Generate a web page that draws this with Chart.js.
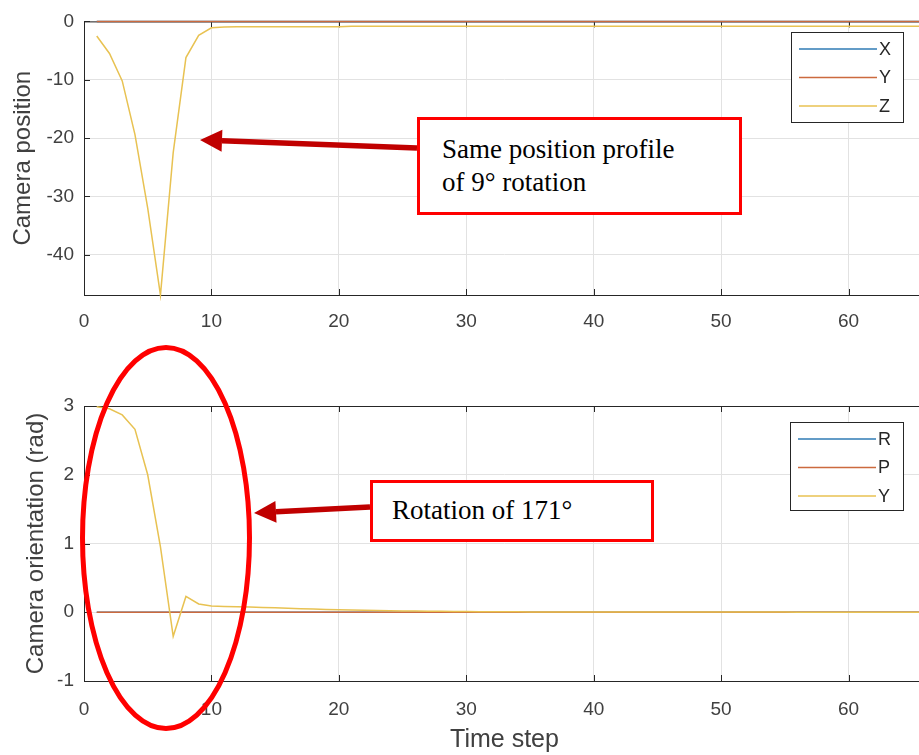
<!DOCTYPE html>
<html>
<head>
<meta charset="utf-8">
<script src="https://cdn.jsdelivr.net/npm/chart.js@4.4.0/dist/chart.umd.min.js"></script>
<style>
  html, body { margin: 0; padding: 0; background: #fff; }
  #wrap { position: relative; width: 919px; height: 755px; overflow: hidden; background: #fff; }
  canvas { position: absolute; left: 0; }
  #topChart { top: 0; }
  #botChart { top: 340px; }
  .note {
    position: absolute; box-sizing: border-box; background: #fff;
    border: 3px solid #ff0000; color: #000;
    font-family: "Liberation Serif", "Times New Roman", serif;
    font-size: 27px; line-height: 33px; white-space: nowrap;
  }
</style>
</head>
<body>
<div id="wrap">
  <canvas id="topChart" width="925" height="340"></canvas>
  <canvas id="botChart" width="925" height="415"></canvas>
  <div class="note" style="left:417px;top:117px;width:325px;height:98px;padding:13px 0 0 22px;">Same position profile<br>of 9° rotation</div>
  <div class="note" style="left:370px;top:480px;width:284px;height:62px;padding:11px 0 0 19px;">Rotation of 171°</div>
</div>
<script>
// Data
const steps = [
  1, 2, 3, 4, 5, 6, 7, 8, 9, 10,
  11, 12, 13, 14, 15, 16, 17, 18, 19, 20,
  21, 22, 23, 24, 25, 26, 27, 28, 29, 30,
  31, 32, 33, 34, 35, 36, 37, 38, 39, 40,
  41, 42, 43, 44, 45, 46, 47, 48, 49, 50,
  51, 52, 53, 54, 55, 56, 57, 58, 59, 60,
  61, 62, 63, 64, 65, 66
];
const zeros = [
  0, 0, 0, 0, 0, 0, 0, 0, 0, 0,
  0, 0, 0, 0, 0, 0, 0, 0, 0, 0,
  0, 0, 0, 0, 0, 0, 0, 0, 0, 0,
  0, 0, 0, 0, 0, 0, 0, 0, 0, 0,
  0, 0, 0, 0, 0, 0, 0, 0, 0, 0,
  0, 0, 0, 0, 0, 0, 0, 0, 0, 0,
  0, 0, 0, 0, 0, 0
];
const posX = zeros;
const posY = zeros;
const posZ = [
  -2.5, -5.5, -10.2, -19.4, -32, -46.9, -22.5, -6.2, -2.4, -1.1,
  -0.95, -0.9, -0.9, -0.9, -0.9, -0.9, -0.9, -0.9, -0.9, -0.9,
  -0.85, -0.85, -0.85, -0.85, -0.85, -0.85, -0.85, -0.85, -0.85, -0.85,
  -0.85, -0.85, -0.85, -0.85, -0.85, -0.85, -0.85, -0.85, -0.85, -0.85,
  -0.85, -0.85, -0.85, -0.85, -0.85, -0.85, -0.85, -0.85, -0.85, -0.85,
  -0.85, -0.85, -0.85, -0.85, -0.85, -0.85, -0.85, -0.85, -0.85, -0.85,
  -0.85, -0.85, -0.85, -0.85, -0.85, -0.85
];
const rotR = zeros;
const rotP = zeros;
const rotY = [
  2.99, 2.96, 2.87, 2.66, 2.0, 0.95, -0.35, 0.23, 0.12, 0.09,
  0.085, 0.08, 0.075, 0.07, 0.064, 0.058, 0.052, 0.046, 0.041, 0.036,
  0.032, 0.028, 0.025, 0.022, 0.019, 0.017, 0.015, 0.013, 0.011, 0.01,
  0.009, 0.008, 0.007, 0.006, 0.005, 0.005, 0.004, 0.004, 0.003, 0.003,
  0.003, 0.002, 0.002, 0.002, 0.002, 0.002, 0.002, 0.002, 0.002, 0.002,
  0.002, 0.002, 0.002, 0.002, 0.002, 0.001, 0.001, 0.001, 0.001, 0.001,
  0.001, 0.001, 0.001, 0.001, 0.001, 0.001
];
const stepTicks = [0, 10, 20, 30, 40, 50, 60];
const posTicks = [-40, -30, -20, -10, 0];
const rotTicks = [-1, 0, 1, 2, 3];
const posLabels = ['X', 'Y', 'Z'];
const rotLabels = ['R', 'P', 'Y'];

const colors = ['#2f7bb5', '#cc6a3e', '#e8c252'];
const axisFont = { family: '"Liberation Sans", Arial, sans-serif', size: 19 };
const titleFont = { family: '"Liberation Sans", Arial, sans-serif', size: 24 };
const textColor = '#404040';

function series(labels, values) {
  return labels.map((lab, k) => ({
    label: lab,
    data: steps.map((s, i) => ({ x: s, y: values[k][i] })),
    borderColor: colors[k],
    borderWidth: 1.5,
    pointRadius: 0,
    tension: 0,
    clip: false,
    order: labels.length - 1 - k // later series on top, as in MATLAB
  }));
}

// axes box with inward ticks, like MATLAB
const frame = {
  id: 'frame',
  beforeDatasetsDraw(chart) {
    const { ctx, chartArea: a, scales: { x, y } } = chart;
    ctx.save();
    ctx.strokeStyle = '#262626';
    ctx.lineWidth = 1;
    ctx.strokeRect(a.left + 0.5, a.top + 0.5, a.right - a.left, a.bottom - a.top);
    ctx.beginPath();
    x.ticks.forEach(t => {
      const px = Math.round(x.getPixelForValue(t.value)) + 0.5;
      ctx.moveTo(px, a.bottom); ctx.lineTo(px, a.bottom - 6);
      ctx.moveTo(px, a.top); ctx.lineTo(px, a.top + 6);
    });
    y.ticks.forEach(t => {
      const py = Math.round(y.getPixelForValue(t.value)) + 0.5;
      ctx.moveTo(a.left, py); ctx.lineTo(a.left + 6, py);
      ctx.moveTo(a.right, py); ctx.lineTo(a.right - 6, py);
    });
    ctx.stroke();
    ctx.restore();
  }
};

// legend box drawn inside the axes
const boxLegend = {
  id: 'boxLegend',
  afterDraw(chart, args, opts) {
    const { ctx } = chart;
    const b = opts.box;
    ctx.save();
    ctx.fillStyle = '#fff';
    ctx.fillRect(b.x, b.y, b.w, b.h);
    ctx.strokeStyle = '#262626';
    ctx.lineWidth = 1;
    ctx.strokeRect(b.x + 0.5, b.y + 0.5, b.w, b.h);
    ctx.font = '18px "Liberation Sans", Arial, sans-serif';
    ctx.textBaseline = 'middle';
    chart.data.datasets.forEach((ds, i) => {
      const ry = b.y + 17 + i * 28.5;
      ctx.strokeStyle = ds.borderColor;
      ctx.lineWidth = 1.5;
      ctx.beginPath();
      ctx.moveTo(b.x + 8, ry); ctx.lineTo(b.x + 86, ry);
      ctx.stroke();
      ctx.fillStyle = '#262626';
      ctx.fillText(ds.label, b.x + 88, ry + 1);
    });
    ctx.restore();
  }
};

function arrow(ctx, x1, y1, x2, y2) {
  const ang = Math.atan2(y2 - y1, x2 - x1);
  const head = 22, half = 11;
  const bx = x2 - head * Math.cos(ang), by = y2 - head * Math.sin(ang);
  ctx.save();
  ctx.strokeStyle = '#c00000';
  ctx.fillStyle = '#c00000';
  ctx.lineWidth = 5.5;
  ctx.beginPath();
  ctx.moveTo(x1, y1); ctx.lineTo(bx, by);
  ctx.stroke();
  ctx.beginPath();
  ctx.moveTo(x2, y2);
  ctx.lineTo(bx + half * Math.sin(ang), by - half * Math.cos(ang));
  ctx.lineTo(bx - half * Math.sin(ang), by + half * Math.cos(ang));
  ctx.closePath();
  ctx.fill();
  ctx.restore();
}

const marks = {
  id: 'marks',
  afterDraw(chart, args, opts) {
    const ctx = chart.ctx;
    (opts.arrows || []).forEach(a => arrow(ctx, a[0], a[1], a[2], a[3]));
    if (opts.ellipse) {
      const e = opts.ellipse;
      ctx.save();
      ctx.strokeStyle = '#ff0000';
      ctx.lineWidth = 5;
      ctx.beginPath();
      ctx.ellipse(e.cx, e.cy, e.rx, e.ry, 0, 0, Math.PI * 2);
      ctx.stroke();
      ctx.restore();
    }
  }
};

function makeOptions(cfg) {
  return {
    responsive: false,
    animation: false,
    layout: { padding: { top: cfg.top, left: 0, right: 0, bottom: 0 } },
    plugins: {
      legend: { display: false },
      tooltip: { enabled: false },
      boxLegend: { box: cfg.legendBox },
      marks: cfg.marks
    },
    scales: {
      x: {
        type: 'linear', min: 0, max: 66,
        afterBuildTicks: s => { s.ticks = stepTicks.map(v => ({ value: v })); },
        afterFit: s => { s.height = cfg.xHeight; },
        grid: { color: '#e2e2e2', drawTicks: false },
        border: { display: false },
        ticks: { padding: cfg.xPad, color: textColor, font: axisFont, maxRotation: 0 },
        title: cfg.xTitle
      },
      y: {
        min: cfg.yMin, max: cfg.yMax,
        afterBuildTicks: s => { s.ticks = cfg.yTicks.map(v => ({ value: v })); },
        afterFit: s => { s.width = 84; },
        grid: { color: '#e2e2e2', drawTicks: false },
        border: { display: false },
        ticks: { padding: 10, color: textColor, font: axisFont },
        title: {
          display: true, text: cfg.yTitle, color: textColor, font: titleFont,
          padding: { top: cfg.yTitlePad, bottom: 0 }
        }
      }
    }
  };
}

new Chart(document.getElementById('topChart'), {
  type: 'line',
  data: { datasets: series(posLabels, [posX, posY, posZ]) },
  options: makeOptions({
    top: 17, xHeight: 45, xPad: 15,
    yMin: -46.9, yMax: 0, yTicks: posTicks,
    yTitle: 'Camera position', yTitlePad: 9,
    xTitle: { display: false },
    legendBox: { x: 791, y: 32, w: 112, h: 90 },
    marks: { arrows: [[417, 148, 200, 140]] }
  }),
  plugins: [frame, boxLegend, marks]
});

new Chart(document.getElementById('botChart'), {
  type: 'line',
  data: { datasets: series(rotLabels, [rotR, rotP, rotY]) },
  options: makeOptions({
    top: 66, xHeight: 74, xPad: 17,
    yMin: -1, yMax: 3, yTicks: rotTicks,
    yTitle: 'Camera orientation (rad)', yTitlePad: 22,
    xTitle: {
      display: true, text: 'Time step', color: textColor,
      font: { family: '"Liberation Sans", Arial, sans-serif', size: 25 },
      padding: { top: 0, bottom: 0 }
    },
    legendBox: { x: 790, y: 82, w: 113, h: 88 },
    marks: {
      arrows: [[370, 167, 254, 173]],
      ellipse: { cx: 166, cy: 198, rx: 83.5, ry: 190.5 }
    }
  }),
  plugins: [frame, boxLegend, marks]
});
</script>
</body>
</html>
